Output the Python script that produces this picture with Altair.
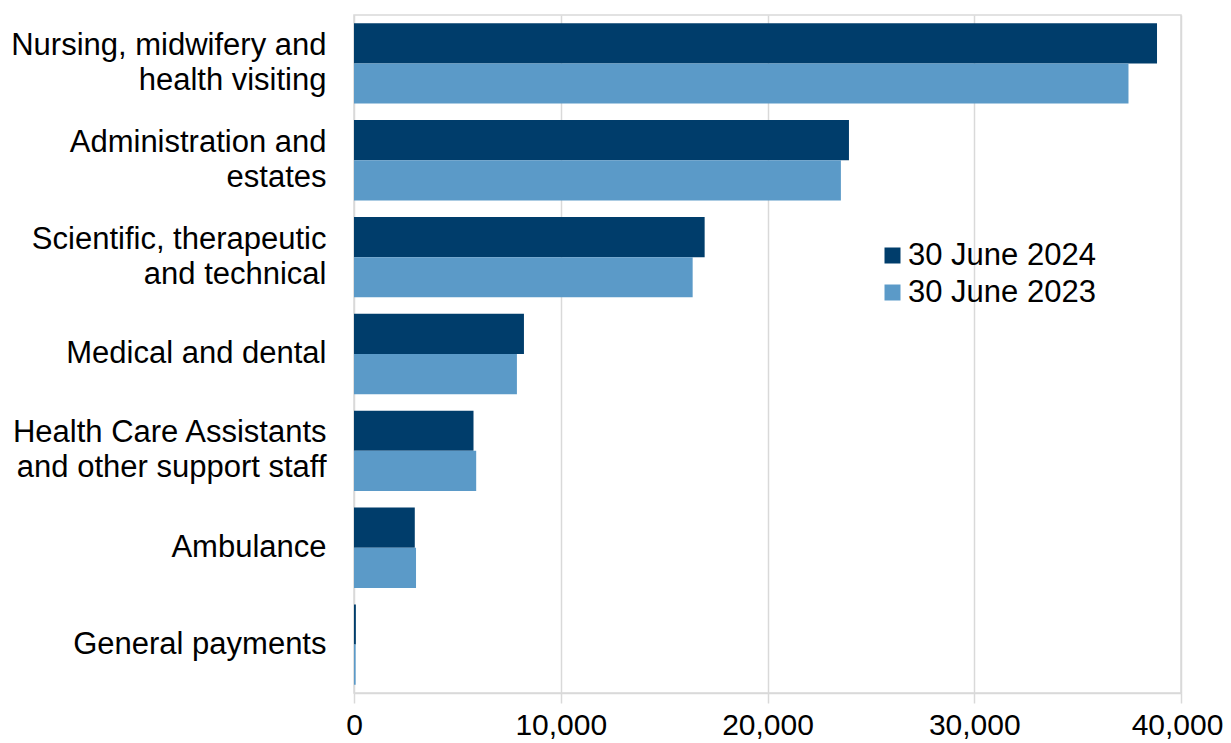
import altair as alt
import pandas as pd

categories = [
    "Nursing, midwifery and|health visiting",
    "Administration and|estates",
    "Scientific, therapeutic|and technical",
    "Medical and dental",
    "Health Care Assistants|and other support staff",
    "Ambulance",
    "General payments",
]
series = ["30 June 2024", "30 June 2023"]
values_2024 = [38840, 23940, 16960, 8220, 5780, 2940, 90]
values_2023 = [37460, 23550, 16380, 7880, 5910, 3000, 80]
colors = ["#003d6b", "#5b9ac8"]
x_ticks = [0, 10000, 20000, 30000, 40000]

rows = []
for c, a, b in zip(categories, values_2024, values_2023):
    rows.append({"category": c, "series": series[0], "value": a})
    rows.append({"category": c, "series": series[1], "value": b})
df = pd.DataFrame(rows)

FONT = "Liberation Sans"
FS = 31

chart = (
    alt.Chart(df)
    .mark_bar()
    .encode(
        y=alt.Y(
            "category:N",
            sort=categories,
            scale=alt.Scale(paddingInner=0.17, paddingOuter=0.085),
            axis=alt.Axis(
                title=None,
                labelExpr="split(datum.value, '|')",
                labelFont=FONT,
                labelFontSize=FS,
                labelColor="#000000",
                labelLineHeight=35,
                labelPadding=28,
                labelOffset=alt.condition(
                    "indexof(datum.value, '|') >= 0", alt.value(-17.5), alt.value(0)
                ),
                ticks=False,
                domain=False,
                grid=False,
                labelLimit=400,
            ),
        ),
        yOffset=alt.YOffset("series:N", sort=series, scale=alt.Scale(paddingInner=0)),
        x=alt.X(
            "value:Q",
            scale=alt.Scale(domain=[0, 40000], nice=False),
            axis=alt.Axis(
                title=None,
                values=x_ticks,
                format=",.0f",
                labelFont=FONT,
                labelFontSize=30,
                labelColor="#000000",
                labelPadding=7,
                labelOffset=alt.condition(
                    "datum.value >= 40000", alt.value(-4), alt.value(0)
                ),
                tickSize=10,
                tickColor="#d9d9d9",
                tickWidth=1.5,
                domainColor="#d9d9d9",
                domainWidth=1.5,
                gridColor="#d9d9d9",
                gridWidth=1.5,
                labelFlush=False,
            ),
        ),
        color=alt.Color(
            "series:N",
            sort=series,
            scale=alt.Scale(domain=series, range=colors),
            legend=alt.Legend(
                title=None,
                orient="none",
                legendX=523,
                legendY=225,
                padding=0,
                symbolType="square",
                symbolSize=256,
                symbolStrokeWidth=0,
                labelFont=FONT,
                labelFontSize=FS,
                labelColor="#000000",
                labelOffset=0,
                rowPadding=5,
                labelLimit=400,
            ),
        ),
    )
    .properties(
        width=827,
        height=678,
        autosize=alt.AutoSizeParams(type="none"),
        padding={"left": 346, "top": 7, "right": 42, "bottom": 50},
    )
    .configure_view(stroke="#d9d9d9", strokeWidth=1.5)
)

chart.save("out.html", embed_options={"renderer": "svg", "actions": False})
